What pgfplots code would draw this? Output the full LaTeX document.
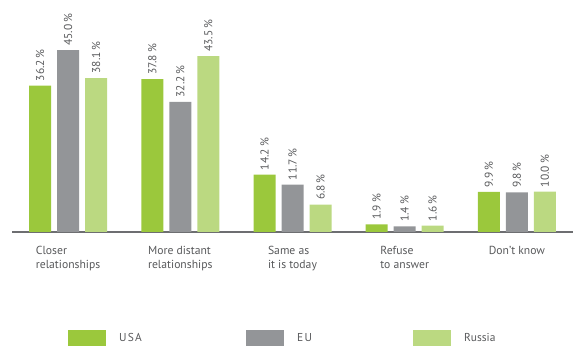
\documentclass[border=0pt]{standalone}
\usepackage{fontspec}
\setmainfont{PT Sans}
\usepackage{pgfplots}
\pgfplotsset{compat=1.18}
\definecolor{usa}{HTML}{9BC83C}
\definecolor{eu}{HTML}{939598}
\definecolor{rus}{HTML}{BBD981}
\definecolor{txt}{HTML}{58595B}
\definecolor{axl}{HTML}{6D6E71}
\begin{document}
\begin{tikzpicture}
\useasboundingbox (0,0) rectangle (573bp,349bp);
\begin{axis}[
  at={(12bp,117bp)}, anchor=south west,
  scale only axis, width=561bp, height=232bp,
  ymin=0, ymax=57.4, xmin=-0.5, xmax=4.5,
  ybar=6bp, bar width=22bp,
  axis y line=none,
  axis x line*=bottom,
  x axis line style={draw=axl, line width=1.6bp, -},
  xtick=data, major tick length=0pt,
  /pgf/number format/assume math mode=true,
  xticklabels={{Closer\\relationships},{More distant\\relationships},{Same as\\it is today},{Refuse\\to answer},{Don’t know}},
  xticklabel style={align=left, anchor=north, text=txt, font=\fontsize{11.7}{14}\selectfont, yshift=-11bp},
  nodes near coords={\pgfmathprintnumber[fixed,fixed zerofill,precision=1]{\pgfplotspointmeta}\,\%},
  every node near coord/.append style={rotate=90, anchor=west, text=txt, font=\fontsize{11.5}{12}\selectfont, xshift=1bp},
  legend columns=3,
  legend image code/.code={\fill[#1] (0bp,-8bp) rectangle (38bp,8bp);},
  legend style={draw=none, fill=none, at={(axis description cs:0.0998,-0.457)}, anchor=west, inner sep=0pt,
    font=\fontsize{11.5}{12}\selectfont, text=txt, nodes={inner sep=0pt},
    /tikz/every even column/.append style={column sep=0pt}},
]
\addplot[fill=usa, draw=none] coordinates {(0,36.2) (1,37.8) (2,14.2) (3,1.9) (4,9.9)};
\addplot[fill=eu, draw=none] coordinates {(0,45.0) (1,32.2) (2,11.7) (3,1.4) (4,9.8)};
\addplot[fill=rus, draw=none] coordinates {(0,38.1) (1,43.5) (2,6.8) (3,1.6) (4,10.0)};
\legend{\makebox[140bp][l]{\hspace*{13bp}U\hspace{1.2bp}S\hspace{1.2bp}A},\makebox[129bp][l]{\hspace*{13bp}E\hspace{1.2bp}U},\hspace*{13bp}Russia}
\end{axis}
\end{tikzpicture}
\end{document}
